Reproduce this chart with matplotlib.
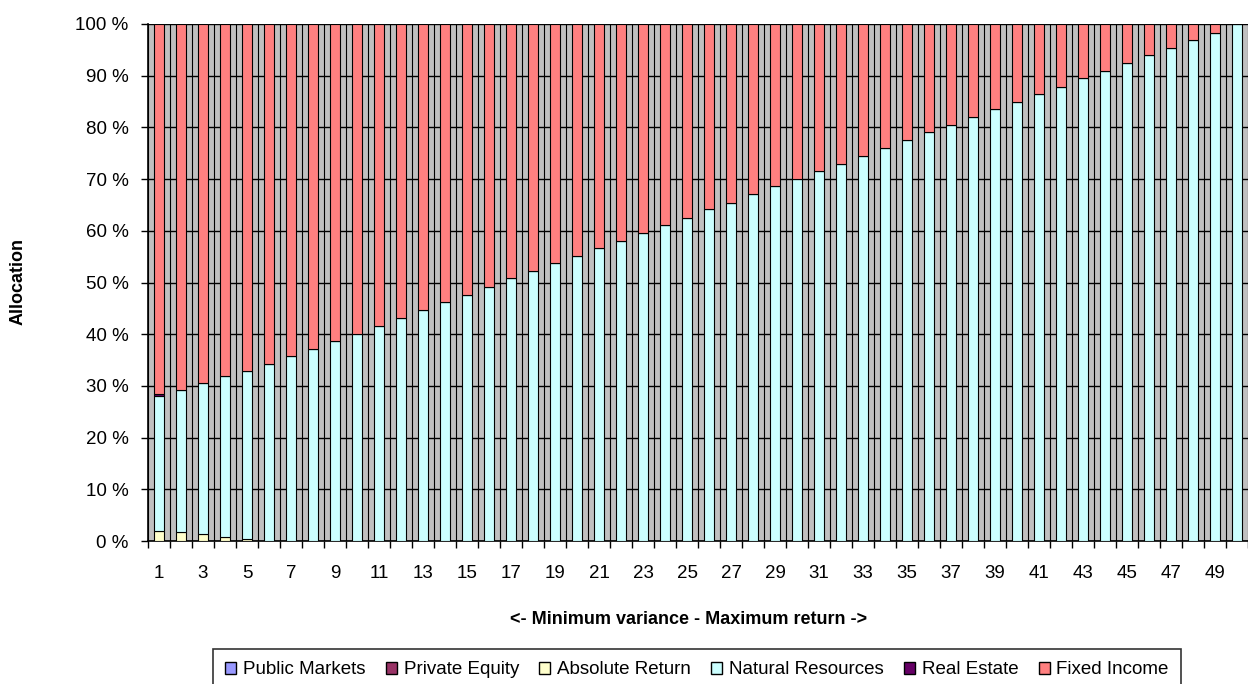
import numpy as np
import matplotlib.pyplot as plt
from matplotlib.patches import Patch

# Portfolio allocation along the efficient frontier (percent)
points = list(range(1, 51))
series_names = ["Public Markets", "Private Equity", "Absolute Return",
                "Natural Resources", "Real Estate", "Fixed Income"]

public_markets = [0.0] * 50
private_equity = [0.0] * 50
absolute_return = [2.0, 1.7, 1.4, 0.8, 0.4] + [0.0] * 45
natural_resources = [26.0, 27.6, 29.2, 31.1, 32.5, 34.2, 35.8, 37.1, 38.7, 40.1,
                     41.6, 43.2, 44.7, 46.3, 47.6, 49.2, 50.8, 52.2, 53.7, 55.1,
                     56.7, 58.0, 59.6, 61.2, 62.5, 64.2, 65.4, 67.1, 68.7, 70.0,
                     71.6, 72.9, 74.5, 76.1, 77.5, 79.1, 80.4, 82.0, 83.6, 85.0,
                     86.5, 87.9, 89.5, 90.9, 92.5, 94.0, 95.4, 96.9, 98.3, 100.0]
real_estate = [0.4] + [0.0] * 49
fixed_income = [71.6, 70.7, 69.4, 68.1, 67.1, 65.8, 64.2, 62.9, 61.3, 59.9,
                58.4, 56.8, 55.3, 53.7, 52.4, 50.8, 49.2, 47.8, 46.3, 44.9,
                43.3, 42.0, 40.4, 38.8, 37.5, 35.8, 34.6, 32.9, 31.3, 30.0,
                28.4, 27.1, 25.5, 23.9, 22.5, 20.9, 19.6, 18.0, 16.4, 15.0,
                13.5, 12.1, 10.5, 9.1, 7.5, 6.0, 4.6, 3.1, 1.7, 0.0]

colors = ["#9999FF", "#993366", "#FFFFCC", "#CCFFFF", "#660066", "#FF8080"]

plt.rcParams['font.family'] = ['Liberation Sans', 'DejaVu Sans']

fig = plt.figure(figsize=(12.48, 6.84), dpi=100)
ax = fig.add_axes([148 / 1248, 1 - 541 / 684, 1100 / 1248, 517 / 684])
ax.set_facecolor("#C0C0C0")

x = np.arange(len(points))
bottom = np.zeros(len(points))
for vals, col in zip([public_markets, private_equity, absolute_return,
                      natural_resources, real_estate, fixed_income], colors):
    ax.bar(x, vals, width=0.42, bottom=bottom, color=col,
           edgecolor="black", linewidth=0.8, zorder=3)
    bottom += np.array(vals)

ax.set_xlim(-0.5, len(points) - 0.5)
ax.set_ylim(0, 100)

# y axis
ax.set_yticks(np.arange(0, 101, 10))
ax.set_yticklabels([f"{v} %" for v in range(0, 101, 10)], fontsize=13.5)
ax.tick_params(axis='y', length=5, width=1, pad=9)
ax.yaxis.grid(True, color="black", linewidth=1.0, zorder=1)

# x axis: labels on odd points, ticks/grid on category boundaries
ax.set_xticks(x[::2])
ax.set_xticklabels([str(p) for p in points[::2]], fontsize=13.5)
ax.set_xticks(np.arange(-0.5, len(points), 1), minor=True)
ax.tick_params(axis='x', which='major', length=0, pad=17)
ax.tick_params(axis='x', which='minor', length=5, width=1)
ax.xaxis.grid(True, which='minor', color="black", linewidth=0.8, zorder=1)
ax.set_axisbelow(True)

for side in ['top', 'right']:
    ax.spines[side].set_visible(False)
for side in ['left', 'bottom']:
    ax.spines[side].set_linewidth(1.2)

fig.text(18 / 1248, 1 - 282 / 684, "Allocation", rotation=90, fontsize=13,
         fontweight='bold', ha='center', va='center')
fig.text(689 / 1248, 1 - 620 / 684, "<- Minimum variance - Maximum return ->",
         fontsize=13, fontweight='bold', ha='center', va='center')

handles = [Patch(facecolor=c, edgecolor="black", linewidth=1.0) for c in colors]
leg = fig.legend(handles, series_names, loc='upper left',
                 bbox_to_anchor=(213 / 1248, 1 - 649 / 684), ncol=6,
                 fontsize=13.5, frameon=True, fancybox=False, edgecolor="black",
                 handlelength=0.6, handleheight=0.6, handletextpad=0.35,
                 columnspacing=1.08, borderpad=0.65, borderaxespad=0)
leg.get_frame().set_linewidth(1.2)

fig.savefig("out.png", dpi=100)
